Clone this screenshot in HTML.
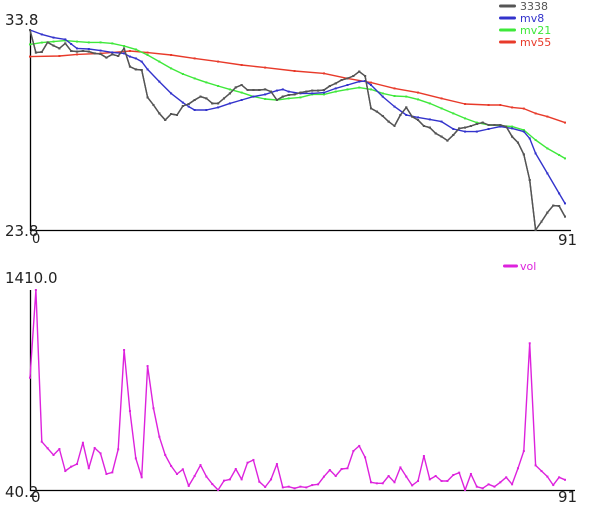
<!DOCTYPE html>
<html><head><meta charset="utf-8"><style>
body{margin:0;background:#fff;}
svg{display:block;font-family:"DejaVu Sans","Liberation Sans",sans-serif;}
</style></head><body>
<svg id="c" width="600" height="520"></svg>
<script>
const price=[33.80,32.67,32.70,33.18,33.02,32.88,33.13,32.75,32.72,32.75,32.72,32.63,32.60,32.42,32.58,32.50,32.88,31.97,31.83,31.80,30.43,30.05,29.63,29.30,29.60,29.55,30.00,30.10,30.30,30.47,30.38,30.13,30.13,30.38,30.63,30.93,31.05,30.80,30.80,30.80,30.83,30.72,30.30,30.47,30.55,30.58,30.67,30.72,30.77,30.77,30.80,31.00,31.13,31.30,31.38,31.50,31.72,31.50,29.88,29.72,29.50,29.22,29.00,29.55,29.93,29.47,29.30,29.00,28.92,28.63,28.47,28.27,28.55,28.88,28.92,29.00,29.10,29.17,29.05,29.05,29.05,28.97,28.47,28.17,27.58,26.30,23.80,24.22,24.67,25.02,25.00,24.47];
const mv8Idx=[0,2,4,6,7,8,10,12,14,16,17,18,19,20,22,24,26,27,28,30,32,34,36,38,40,42,43,44,46,48,50,52,54,56,57,58,60,62,64,66,68,70,72,74,76,78,80,82,84,85,86,88,90,91];
const mv8Val=[33.80,33.58,33.42,33.33,33.10,32.88,32.85,32.77,32.68,32.63,32.47,32.38,32.22,31.83,31.22,30.63,30.17,29.97,29.80,29.80,29.93,30.13,30.30,30.47,30.58,30.77,30.83,30.72,30.63,30.63,30.67,30.88,31.05,31.22,31.25,31.05,30.47,29.97,29.55,29.43,29.33,29.22,28.85,28.72,28.72,28.85,28.97,28.88,28.72,28.38,27.63,26.63,25.63,25.13];
const mv21Idx=[0,2,4,6,8,10,12,14,16,18,20,22,24,26,28,30,32,34,36,38,40,42,44,46,48,50,52,54,56,58,60,62,64,66,68,70,72,74,76,78,80,82,84,86,88,90,91];
const mv21Val=[33.08,33.17,33.22,33.27,33.22,33.18,33.18,33.13,33.00,32.83,32.55,32.22,31.88,31.60,31.38,31.18,31.00,30.83,30.67,30.47,30.35,30.30,30.38,30.43,30.58,30.58,30.72,30.83,30.92,30.83,30.63,30.50,30.47,30.33,30.13,29.88,29.63,29.38,29.17,29.05,29.02,28.97,28.80,28.30,27.88,27.55,27.38];
const mv55Idx=[0,5,8,12,17,20,24,28,32,36,40,45,50,54,58,62,66,70,74,78,80,82,84,86,88,91];
const mv55Val=[32.47,32.50,32.58,32.63,32.75,32.67,32.55,32.38,32.22,32.05,31.92,31.75,31.63,31.38,31.17,30.88,30.67,30.38,30.10,30.05,30.05,29.93,29.87,29.63,29.47,29.17];
const vol=[809,1410,371,326,280,321,170,200,218,364,189,328,291,150,161,319,999,581,257,127,889,600,405,280,205,150,182,68,136,211,132,81,40,104,113,184,113,227,246,97,61,113,218,58,63,52,63,58,74,79,132,177,136,184,189,307,342,264,93,86,86,136,93,195,132,72,102,273,113,136,102,102,143,159,40,150,63,52,79,63,93,127,79,189,307,1045,209,170,132,74,127,110];
const priceTicks=["33.8","23.8"];
const volTicks=["1410.0","40.2"];
const xTicks=["0","91"];

const svg=document.getElementById('c');
const NS='http://www.w3.org/2000/svg';
function mk(t,a,p){const e=document.createElementNS(NS,t);for(const k in a)e.setAttribute(k,a[k]);(p||svg).appendChild(e);return e;}
const X0=30,X1=565,N=91;
function xs(i){return X0+(X1-X0)*i/N;}
function yTop(v){return 230-(v-23.8)/(33.8-23.8)*200;}
function yBot(v){return 490-(v-40.2)/(1410-40.2)*200;}

function series(idx,vals,yf,color,name){
  const g=mk('g',{});
  
  
  const pts=vals.map((v,k)=>[xs(idx?idx[k]:k),yf(v)]);
  const l=mk('polyline',{points:pts.map(p=>p[0].toFixed(1)+','+p[1].toFixed(1)).join(' '),fill:'none',stroke:color,'stroke-width':1.4,'stroke-linejoin':'round'},g);
  
  
  pts.forEach(p=>{const m=mk('rect',{x:p[0]-1,y:p[1]-1,width:2,height:2,fill:color},g);
    
    });
}
function text(x,y,s,size,color,name){const t=mk('text',{x:x,y:y,'font-size':size,fill:color});t.textContent=s;
  
  return t;}

// axes top
let a=mk('path',{d:'M30.5 30V230.5H571',stroke:'#000','stroke-width':1.3,fill:'none'});

a=mk('path',{d:'M30.5 290V490.5H575',stroke:'#000','stroke-width':1.3,fill:'none'});


series(null,price,yTop,'#555555','series-3338');
series(mv55Idx,mv55Val,yTop,'#e83a2a','series-mv55');
series(mv21Idx,mv21Val,yTop,'#3ee83a','series-mv21');
series(mv8Idx,mv8Val,yTop,'#3333cc','series-mv8');
series(null,price,yTop,'#555555','series-3338-top');
series(null,vol,yBot,'#dd22dd','series-vol');

text(5,25,priceTicks[0],15,'#222','y-tick-max');
text(5,236,priceTicks[1],15,'#222','y-tick-min');
text(32,243,xTicks[0],13,'#222','x-tick-start');
text(558,245,xTicks[1],15,'#222','x-tick-end');
text(5,283,volTicks[0],15,'#222','vol-tick-max');
text(5,497,volTicks[1],15,'#222','vol-tick-min');
text(31,502,xTicks[0],15,'#222','vol-x-tick-start');
text(558,502,xTicks[1],15,'#222','vol-x-tick-end');

const leg=[['3338','#555555'],['mv8','#3333cc'],['mv21','#3ee83a'],['mv55','#e83a2a']];
leg.forEach((l,k)=>{const y=6+k*12;
  const r=mk('rect',{x:499,y:y-1.5,width:17,height:3,rx:1.5,fill:l[1]});
  
  text(520,y+4,l[0],11,l[1],'legend-entry-'+l[0]);});
const r=mk('rect',{x:503,y:264.5,width:15,height:3,rx:1.5,fill:'#dd22dd'});

text(520,270,'vol',11,'#dd22dd','legend-entry-vol');
</script>
</body></html>
